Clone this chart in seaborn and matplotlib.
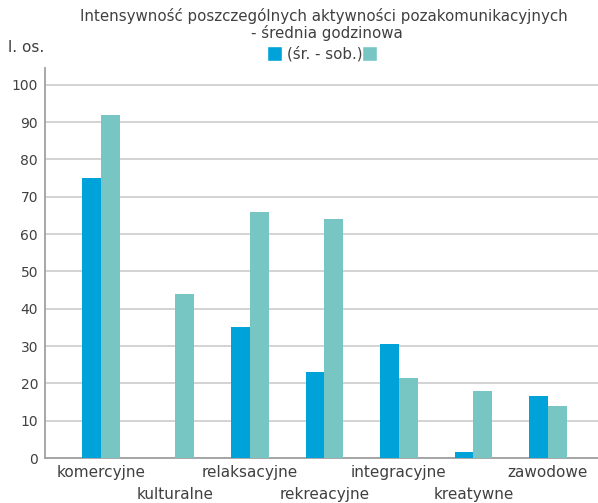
import matplotlib
matplotlib.use("Agg")
import matplotlib.pyplot as plt
import seaborn as sns
import pandas as pd
from matplotlib.patches import Patch

categories = ["komercyjne", "kulturalne", "relaksacyjne", "rekreacyjne",
              "integracyjne", "kreatywne", "zawodowe"]
series_a = [75, 0, 35, 23, 30.5, 1.5, 16.5]
series_b = [92, 44, 66, 64, 21.5, 18, 14]
series_names = ["(śr. - sob.)", " "]
yticks = [0, 10, 20, 30, 40, 50, 60, 70, 80, 90, 100]
title_lines = ["Intensywność poszczególnych aktywności pozakomunikacyjnych",
               "- średnia godzinowa"]
ylabel = "l. os."
colors = ["#00A3D9", "#77C6C4"]

sns.set_theme(style="white")
plt.rcParams['font.family'] = ['DejaVu Sans']
text_color = "#404040"

df = pd.DataFrame({
    "cat": categories * 2,
    "val": series_a + series_b,
    "ser": [series_names[0]] * len(categories) + [series_names[1]] * len(categories),
})

fig = plt.figure(figsize=(5.98, 5.03), dpi=100)
ax = fig.add_axes([45 / 598, (503 - 458) / 503, (598 - 45) / 598, (458 - 68) / 503])
sns.barplot(data=df, x="cat", y="val", hue="ser", palette=colors, width=0.5,
            saturation=1, ax=ax, legend=False, linewidth=0, zorder=3)

ax.set_xlim(-0.75, -0.75 + (598 - 45) / 74.5)
ax.set_ylim(0, 104.5)
ax.set_yticks(yticks)
ax.set_yticklabels([str(t) for t in yticks], fontsize=10, color=text_color)
ax.yaxis.grid(True, color="#d0d0d0", linewidth=1.3, zorder=0)
ax.set_axisbelow(True)
ax.set_xticks(range(len(categories)))
ax.set_xticklabels(categories, fontsize=11, color=text_color)
ax.tick_params(axis="both", length=0)
ax.tick_params(axis="y", pad=5)
for i, t in enumerate(ax.xaxis.get_major_ticks()):
    t.set_pad(5 if i % 2 == 0 else 21)
ax.set_xlabel("")
ax.set_ylabel("")
for s in ["top", "right"]:
    ax.spines[s].set_visible(False)
for s in ["left", "bottom"]:
    ax.spines[s].set_color("#a0a0a0")
    ax.spines[s].set_linewidth(1.3)

fig.text(324 / 598, 1 - 16 / 503, title_lines[0], ha="center", va="center",
         fontsize=10.8, color=text_color)
fig.text(327 / 598, 1 - 33 / 503, title_lines[1], ha="center", va="center",
         fontsize=10.8, color=text_color)
fig.text(8 / 598, 1 - 48 / 503, ylabel, ha="left", va="center",
         fontsize=11, color=text_color)

handles = [Patch(facecolor=colors[0]), Patch(facecolor=colors[1])]
fig.legend(handles, series_names, loc="center", bbox_to_anchor=(327 / 598, 1 - 54 / 503),
           ncol=2, frameon=False, fontsize=10.8, handlelength=1.0, handleheight=1.1,
           handletextpad=0.3, columnspacing=0.0, labelcolor=text_color,
           borderpad=0, borderaxespad=0)

fig.savefig("out.png", dpi=100)
